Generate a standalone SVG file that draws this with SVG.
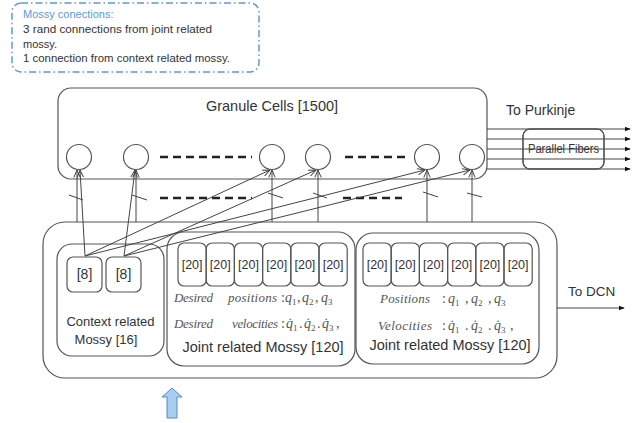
<svg xmlns="http://www.w3.org/2000/svg" width="644" height="423" viewBox="0 0 644 423">
<defs>
<marker id="open" viewBox="0 0 8 8" refX="7.5" refY="4" markerWidth="8" markerHeight="8" markerUnits="userSpaceOnUse" orient="auto">
<path d="M0,0.8 L7.5,4 L0,7.2" fill="none" stroke="#444" stroke-width="1"/>
</marker>
<marker id="solid" viewBox="0 0 8 8" refX="7" refY="4" markerWidth="6" markerHeight="6" markerUnits="userSpaceOnUse" orient="auto">
<path d="M0,1 L8,4 L0,7 z" fill="#111"/>
</marker>
</defs>
<style>
.box{fill:none;stroke:#555;stroke-width:1.2}
.cell{fill:#fff;stroke:#555;stroke-width:1.2}
.t{font-family:"Liberation Sans",Arial,sans-serif;fill:#333}
.m{font-family:"Liberation Serif","Times New Roman",serif;font-style:italic;fill:#555;font-size:13px}
.q{font-family:"Liberation Serif","Times New Roman",serif;fill:#555;font-size:14px}
.q .i{font-style:italic}
.q .s{font-size:9px}
.ln{stroke:#444;stroke-width:1;fill:none}
.dash{stroke:#222;stroke-width:2.6;stroke-dasharray:8 5;fill:none}
.pf{stroke:#444;stroke-width:1;marker-end:url(#solid)}
</style>
<rect width="644" height="423" fill="#fff"/>

<g id="note">
<rect x="12" y="3" width="247" height="69" rx="9" fill="none" stroke="#5B9BD5" stroke-width="1.5" stroke-dasharray="7 3 1.5 3"/>
<text class="t" x="23" y="18" font-size="11" style="fill:#5B9BD5">Mossy conections:</text>
<text class="t" x="23" y="33" font-size="11" textLength="189" lengthAdjust="spacingAndGlyphs">3 rand connections from joint related</text>
<text class="t" x="23" y="47.5" font-size="11">mossy.</text>
<text class="t" x="23" y="62" font-size="11" textLength="207" lengthAdjust="spacingAndGlyphs">1 connection  from context related mossy.</text>
</g>

<g id="granule">
<rect class="box" x="58" y="88" width="429" height="91" rx="13"/>
<text class="t" x="272" y="111" font-size="14.5" text-anchor="middle">Granule Cells [1500]</text>
<circle class="cell" cx="79" cy="157" r="12.5"/>
<circle class="cell" cx="136" cy="157" r="12.5"/>
<circle class="cell" cx="272" cy="157" r="12.5"/>
<circle class="cell" cx="318" cy="157" r="12.5"/>
<circle class="cell" cx="427" cy="157" r="12.5"/>
<circle class="cell" cx="472" cy="157" r="12.5"/>
<path class="dash" d="M160,157 H252 M345,157 H405 M160,198 H252 M343,198 H402"/>
</g>

<g id="purkinje">
<text class="t" x="506" y="115" font-size="14">To Purkinje</text>
<rect x="523" y="129" width="81" height="40" rx="7" fill="#fff" stroke="#555" stroke-width="1.2"/>
</g>

<g id="mossy">
<rect class="box" x="43" y="222" width="514" height="156" rx="22"/>
<g id="context">
<rect class="box" x="57" y="244" width="107" height="112" rx="15"/>
<rect class="box" x="67" y="257" width="35" height="35" rx="6"/>
<rect class="box" x="106" y="257" width="35" height="35" rx="6"/>
<text class="t" x="84.5" y="279" font-size="14" text-anchor="middle">[8]</text>
<text class="t" x="123.5" y="279" font-size="14" text-anchor="middle">[8]</text>
<text class="t" x="110.5" y="326" font-size="13" text-anchor="middle">Context related</text>
<text class="t" x="106" y="344" font-size="13" text-anchor="middle">Mossy [16]</text>
</g>
<g id="joint1">
<rect class="box" x="167" y="232" width="188" height="134" rx="17"/>
<g>
<rect class="box" x="178" y="243" width="28.2" height="43" rx="6"/>
<rect class="box" x="206.2" y="243" width="28.2" height="43" rx="6"/>
<rect class="box" x="234.4" y="243" width="28.2" height="43" rx="6"/>
<rect class="box" x="262.6" y="243" width="28.2" height="43" rx="6"/>
<rect class="box" x="290.8" y="243" width="28.2" height="43" rx="6"/>
<rect class="box" x="319" y="243" width="28.2" height="43" rx="6"/>
</g>
<g class="t" font-size="12.5" text-anchor="middle">
<text x="192.1" y="269">[20]</text><text x="220.3" y="269">[20]</text><text x="248.5" y="269">[20]</text><text x="276.7" y="269">[20]</text><text x="304.9" y="269">[20]</text><text x="333.1" y="269">[20]</text>
</g>
<text class="m" x="174" y="302" textLength="39" lengthAdjust="spacing">Desired</text>
<text class="m" x="228" y="302" textLength="49" lengthAdjust="spacing">positions</text>
<text class="q" y="302"><tspan x="281">:</tspan><tspan class="i" x="285">q</tspan><tspan class="s" dy="3">1</tspan><tspan x="297" dy="-3">,</tspan><tspan class="i" x="302">q</tspan><tspan class="s" dy="3">2</tspan><tspan x="315" dy="-3">,</tspan><tspan class="i" x="321">q</tspan><tspan class="s" dy="3">3</tspan></text>
<text class="m" x="174" y="328" textLength="39" lengthAdjust="spacing">Desired</text>
<text class="m" x="232" y="328" textLength="46" lengthAdjust="spacing">velocities</text>
<text class="q" y="328"><tspan x="281">:</tspan><tspan class="i" x="286">q̇</tspan><tspan class="s" dy="3">1</tspan><tspan x="299" dy="-3">.</tspan><tspan class="i" x="304">q̇</tspan><tspan class="s" dy="3">2</tspan><tspan x="317" dy="-3">.</tspan><tspan class="i" x="322">q̇</tspan><tspan class="s" dy="3">3</tspan><tspan x="336" dy="-3">,</tspan></text>
<text class="t" x="263" y="352" font-size="14.5" text-anchor="middle">Joint related Mossy [120]</text>
</g>
<g id="joint2">
<rect class="box" x="356" y="233" width="183" height="131" rx="17"/>
<g>
<rect class="box" x="363" y="243" width="28.2" height="43" rx="6"/>
<rect class="box" x="391.2" y="243" width="28.2" height="43" rx="6"/>
<rect class="box" x="419.4" y="243" width="28.2" height="43" rx="6"/>
<rect class="box" x="447.6" y="243" width="28.2" height="43" rx="6"/>
<rect class="box" x="475.8" y="243" width="28.2" height="43" rx="6"/>
<rect class="box" x="504" y="243" width="28.2" height="43" rx="6"/>
</g>
<g class="t" font-size="12.5" text-anchor="middle">
<text x="377.1" y="269">[20]</text><text x="405.3" y="269">[20]</text><text x="433.5" y="269">[20]</text><text x="461.7" y="269">[20]</text><text x="489.9" y="269">[20]</text><text x="518.1" y="269">[20]</text>
</g>
<text class="m" x="380" y="303" textLength="50" lengthAdjust="spacing">Positions</text>
<text class="q" y="303"><tspan x="442">:</tspan><tspan class="i" x="448">q</tspan><tspan class="s" dy="3">1</tspan><tspan x="465" dy="-3">,</tspan><tspan class="i" x="471">q</tspan><tspan class="s" dy="3">2</tspan><tspan x="488" dy="-3">,</tspan><tspan class="i" x="494">q</tspan><tspan class="s" dy="3">3</tspan></text>
<text class="m" x="378" y="330" textLength="54" lengthAdjust="spacing">Velocities</text>
<text class="q" y="330"><tspan x="442">:</tspan><tspan class="i" x="448">q̇</tspan><tspan class="s" dy="3">1</tspan><tspan x="465" dy="-3">.</tspan><tspan class="i" x="471">q̇</tspan><tspan class="s" dy="3">2</tspan><tspan x="488" dy="-3">.</tspan><tspan class="i" x="494">q̇</tspan><tspan class="s" dy="3">3</tspan><tspan x="510" dy="-3">,</tspan></text>
<text class="t" x="450" y="350" font-size="14.5" text-anchor="middle">Joint related Mossy [120]</text>
</g>
</g>

<g id="dcn">
<text class="t" x="568" y="296" font-size="13.5">To DCN</text>
</g>

<g id="input">
<path d="M172,388 L182,397 L177,397 L177,418 L167,418 L167,397 L162,397 Z" fill="#A9CDF0" stroke="#5B8BC0" stroke-width="1"/>
</g>

<g id="connectors">
<g class="ln" marker-end="url(#open)">
<line x1="77" y1="222" x2="77" y2="170"/>
<line x1="136" y1="222" x2="136" y2="170"/>
<line x1="272" y1="222" x2="272" y2="170"/>
<line x1="318" y1="222" x2="318" y2="170"/>
<line x1="427" y1="222" x2="427" y2="170"/>
<line x1="472" y1="222" x2="472" y2="170"/>
<line x1="85" y1="256" x2="80" y2="170"/>
<line x1="124" y1="256" x2="135" y2="170"/>
<line x1="85" y1="256" x2="270" y2="170"/>
<line x1="124" y1="256" x2="316" y2="170"/>
<line x1="85" y1="256" x2="425" y2="170"/>
<line x1="124" y1="256" x2="470" y2="170"/>
</g>
<path class="ln" d="M69,195 L83,200 M132,195 L147,200 M268,193 L283,198 M313,193 L327,198 M423,192 L438,197 M467,193 L482,197"/>
<line class="pf" x1="487" y1="129" x2="630" y2="129"/>
<line class="pf" x1="487" y1="139" x2="630" y2="139"/>
<line class="pf" x1="487" y1="149" x2="630" y2="149"/>
<line class="pf" x1="487" y1="159" x2="630" y2="159"/>
<line class="pf" x1="487" y1="169" x2="630" y2="169"/>
<line class="pf" x1="557" y1="308" x2="624" y2="308"/>
</g>
<g id="pf-label">
<rect x="523" y="129" width="81" height="40" rx="7" fill="none" stroke="#555" stroke-width="1.2"/>
<text class="t" x="563.5" y="153" font-size="12" text-anchor="middle" textLength="71" lengthAdjust="spacingAndGlyphs">Parallel Fibers</text>
</g>
</svg>
